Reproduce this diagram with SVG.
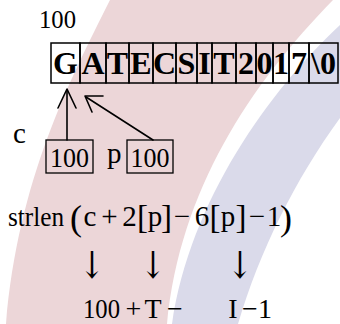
<svg xmlns="http://www.w3.org/2000/svg" width="340" height="324" viewBox="0 0 340 324">
<style>
.t{font-family:"Liberation Serif","Times New Roman",serif;fill:#000}
.cell{fill:none;stroke:#000;stroke-width:1.5}
.ct{font-family:"Liberation Serif","Times New Roman",serif;font-weight:bold;font-size:32px;text-anchor:middle}
.box{fill:none;stroke:#000;stroke-width:1.3}
.m{text-anchor:middle}
.ln{fill:none;stroke:#000;stroke-width:1.6;stroke-linecap:round;stroke-linejoin:round}
.ar{font-family:"DejaVu Serif",serif;font-size:30px;text-anchor:middle;fill:#000}
</style>
<rect width="340" height="324" fill="#fff"/>
<g id="background">
<path d="M110,0 C70,80 18,180 6,324 L167,324 C180,190 250,85 333,0 Z" fill="#ecd6d8"/>
<path d="M340,25 C270,90 190,200 172,324 L238,324 C260,250 295,180 340,118 Z" fill="#dadaea"/>
</g>
<g id="address-label"><text class="t" x="39" y="28" font-size="26" textLength="37" lengthAdjust="spacingAndGlyphs">100</text></g>
<g id="string-array">
<rect class="cell" x="51" y="43" width="29" height="40"/><text class="ct" x="65.5" y="74">G</text>
<rect class="cell" x="80" y="43" width="26" height="40"/><text class="ct" x="93" y="74">A</text>
<rect class="cell" x="106" y="43" width="23" height="40"/><text class="ct" x="117.5" y="74">T</text>
<rect class="cell" x="129" y="43" width="24" height="40"/><text class="ct" x="141" y="74">E</text>
<rect class="cell" x="153" y="43" width="23" height="40"/><text class="ct" x="164.5" y="74">C</text>
<rect class="cell" x="176" y="43" width="21" height="40"/><text class="ct" x="186.5" y="74">S</text>
<rect class="cell" x="197" y="43" width="15" height="40"/><text class="ct" x="204.5" y="74">I</text>
<rect class="cell" x="212" y="43" width="24" height="40"/><text class="ct" x="224" y="74">T</text>
<rect class="cell" x="236" y="43" width="20" height="40"/><text class="ct" x="246" y="74">2</text>
<rect class="cell" x="256" y="43" width="17" height="40"/><text class="ct" x="264.5" y="74">0</text>
<rect class="cell" x="273" y="43" width="16" height="40"/><text class="ct" x="281" y="74">1</text>
<rect class="cell" x="289" y="43" width="20" height="40"/><text class="ct" x="299" y="74">7</text>
<rect class="cell" x="309" y="43" width="29" height="40"/><text class="ct" x="323.5" y="74">\0</text>
</g>
<g id="c-node">
<text class="t" x="13" y="143" font-size="29">c</text>
<rect class="box" x="46" y="140" width="47" height="33"/>
<text class="t m" x="69.5" y="167" font-size="27" textLength="39" lengthAdjust="spacingAndGlyphs">100</text>
</g>
<g id="p-node">
<text class="t" x="107" y="163" font-size="29">p</text>
<rect class="box" x="127" y="140" width="46" height="33"/>
<text class="t m" x="150" y="167" font-size="27" textLength="39" lengthAdjust="spacingAndGlyphs">100</text>
</g>
<g id="connectors">
<line class="ln" x1="67" y1="140" x2="67" y2="90"/>
<polyline class="ln" points="58,108 67,89 76,108"/>
<line class="ln" x1="153" y1="140" x2="86" y2="97"/>
<polyline class="ln" points="103,96 85,96 92,112"/>
</g>
<g id="expression" class="t" font-size="29">
<text x="8" y="226" font-size="28" textLength="56" lengthAdjust="spacingAndGlyphs">strlen</text>
<text class="m" x="76" y="230" font-size="36">(</text>
<text class="m" x="90" y="226">c</text>
<text class="m" x="109.5" y="226">+</text>
<text class="m" x="129.5" y="226">2</text>
<text class="m" x="142.5" y="228" font-size="33">[</text>
<text class="m" x="155" y="226">p</text>
<text class="m" x="166.5" y="228" font-size="33">]</text>
<text class="m" x="182" y="226">−</text>
<text class="m" x="202" y="226">6</text>
<text class="m" x="215" y="228" font-size="33">[</text>
<text class="m" x="228" y="226">p</text>
<text class="m" x="241" y="228" font-size="33">]</text>
<text class="m" x="257" y="226">−</text>
<text class="m" x="274" y="226">1</text>
<text class="m" x="286" y="230" font-size="36">)</text>
</g>
<g id="arrows">
<text class="ar" transform="translate(92,278) scale(1,1.25)">↓</text>
<text class="ar" transform="translate(153,278) scale(1,1.25)">↓</text>
<text class="ar" transform="translate(240,278) scale(1,1.25)">↓</text>
</g>
<g id="result" class="t" font-size="28">
<text class="m" x="101.5" y="318" textLength="37" lengthAdjust="spacingAndGlyphs">100</text>
<text class="m" x="133.5" y="318">+</text>
<text class="m" x="153" y="318">T</text>
<text class="m" x="175" y="318">−</text>
<text class="m" x="233" y="318">I</text>
<text class="m" x="250" y="318">−</text>
<text class="m" x="265" y="318">1</text>
</g>
</svg>
